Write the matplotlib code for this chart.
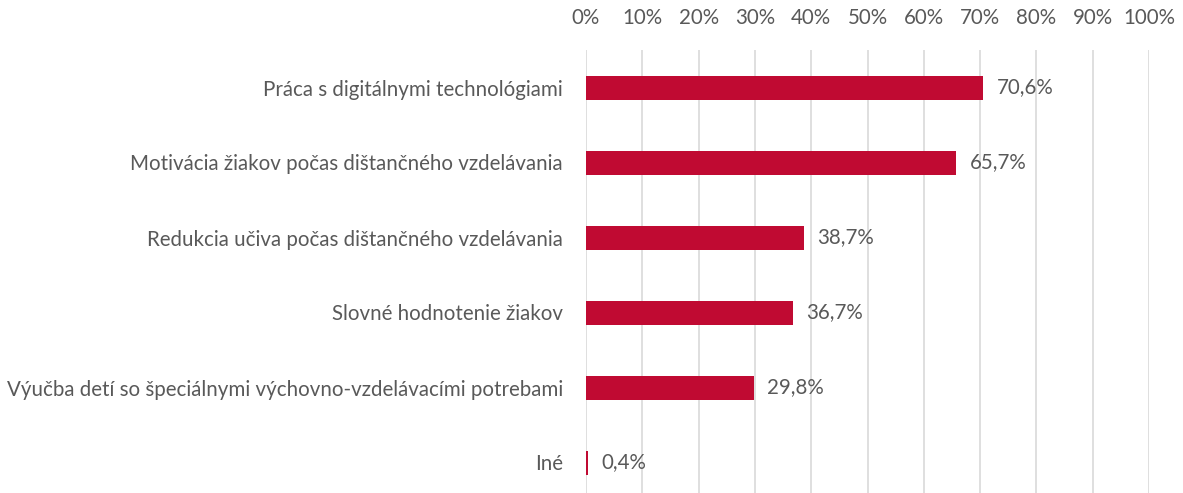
import matplotlib
matplotlib.use("Agg")
import matplotlib.pyplot as plt
from matplotlib.ticker import FuncFormatter

CATEGORIES = [
    "Práca s digitálnymi technológiami",
    "Motivácia žiakov počas dištančného vzdelávania",
    "Redukcia učiva počas dištančného vzdelávania",
    "Slovné hodnotenie žiakov",
    "Výučba detí so špeciálnymi výchovno-vzdelávacími potrebami",
    "Iné",
]
VALUES = [70.6, 65.7, 38.7, 36.7, 29.8, 0.4]
TICKS = [0, 10, 20, 30, 40, 50, 60, 70, 80, 90, 100]

BAR_COLOR = "#C00A32"
TEXT_COLOR = "#595959"
GRID_COLOR = "#D9D9D9"
FS = 14.8

plt.rcParams["font.family"] = ["Lato", "DejaVu Sans"]

W, H = 1183, 493
fig = plt.figure(figsize=(W / 100, H / 100), dpi=100)
ax = fig.add_axes([586 / W, 1 - 500 / H, (1149 - 586) / W, 450 / H])

y = list(range(len(CATEGORIES)))
ax.barh(y, VALUES, height=0.32, color=BAR_COLOR, zorder=3)
for yi, v in zip(y, VALUES):
    ax.text(v + 2.4, yi, f"{v:.1f}%".replace(".", ","), va="center", ha="left",
            fontsize=FS, color=TEXT_COLOR)

ax.set_xlim(0, 100)
ax.set_ylim(len(CATEGORIES) - 0.5, -0.5)
ax.set_xticks(TICKS)
ax.xaxis.set_major_formatter(FuncFormatter(lambda x, _: f"{x:.0f}%"))
ax.xaxis.tick_top()
ax.set_yticks(y)
ax.set_yticklabels(CATEGORIES)
ax.tick_params(axis="both", length=0, labelsize=FS, labelcolor=TEXT_COLOR)
ax.tick_params(axis="x", pad=16)
ax.tick_params(axis="y", pad=16.5)
ax.grid(axis="x", color=GRID_COLOR, linewidth=1.2, zorder=0)
for s in ax.spines.values():
    s.set_visible(False)

fig.savefig("out.png", dpi=100)
